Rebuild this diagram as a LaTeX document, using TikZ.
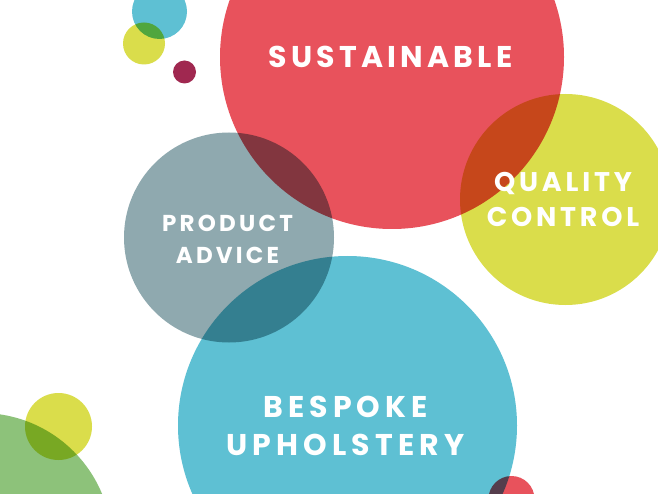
\documentclass[tikz,border=0pt]{standalone}
\usepackage{fontspec}
\newfontfamily\labfont[LetterSpace=14]{Poppins}
\newfontfamily\labwide[LetterSpace=17]{Poppins}
\definecolor{cred}{RGB}{232,82,92}
\definecolor{cyel}{RGB}{218,221,75}
\definecolor{cgrey}{RGB}{143,169,175}
\definecolor{cblue}{RGB}{94,192,211}
\definecolor{cgreen}{RGB}{141,194,122}
\definecolor{cwine}{RGB}{160,40,80}
\tikzset{
  bub/.style={fill=#1, draw=none},
  lab/.style={text=white, font=\labfont\bfseries, anchor=base, inner sep=0pt}
}
\begin{document}
\begin{tikzpicture}[x=1pt,y=-1pt]
\useasboundingbox (0,0) rectangle (658,494);
\fill[white] (0,0) rectangle (658,494);
\begin{scope}[blend group=multiply]
  \fill[bub=cred] (392,57) circle (172);
  \fill[bub=cyel] (565.5,199.5) circle (105.5);
  \fill[bub=cgrey] (229,237.5) circle (105);
  \fill[bub=cblue] (347.5,425.5) circle (169.5);
  \fill[bub=cblue] (159.5,11.5) circle (27.5);
  \fill[bub=cyel] (144,43.5) circle (21);
  \fill[bub=cwine] (184.5,72) circle (11.5);
  \fill[bub=cgreen] (-19,544) circle (131);
  \fill[bub=cyel] (58.5,426.5) circle (33.5);
  \fill[bub=cred] (511.5,499) circle (23);
\end{scope}
\node[lab, font=\labfont\bfseries\fontsize{30}{30}\selectfont] (sus) at (390.5,68) {SUSTAINABLE};
\node[lab, font=\labfont\bfseries\fontsize{27}{27}\selectfont] (qc1) at (563,192) {QUALITY};
\node[lab, font=\labfont\bfseries\fontsize{27}{27}\selectfont] (qc2) at (563,227) {CONTROL};
\node[lab, font=\labfont\bfseries\fontsize{23}{23}\selectfont] (pa1) at (227.5,232) {PRODUCT};
\node[lab, font=\labfont\bfseries\fontsize{23}{23}\selectfont] (pa2) at (227.5,263) {ADVICE};
\node[lab, font=\labwide\bfseries\fontsize{30}{30}\selectfont] (bu1) at (345.5,417) {BESPOKE};
\node[lab, font=\labwide\bfseries\fontsize{30}{30}\selectfont] (bu2) at (345.5,455) {UPHOLSTERY};
\end{tikzpicture}
\end{document}
